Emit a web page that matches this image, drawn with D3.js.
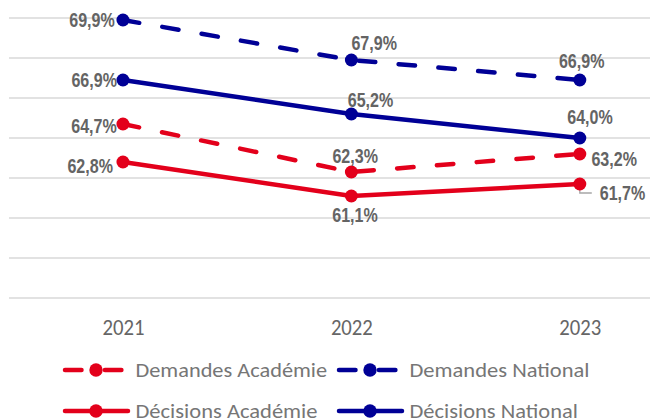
<!DOCTYPE html>
<html>
<head>
<meta charset="utf-8">
<script src="https://cdn.jsdelivr.net/npm/d3@7"></script>
<style>
  html, body { margin: 0; padding: 0; background: #fff; }
  svg { display: block; }
</style>
</head>
<body>
<svg id="chart" width="650" height="420"></svg>
<script>
// ---- data ----
const years = ["2021", "2022", "2023"];
const demandesAcademie = [64.7, 62.3, 63.2];
const demandesNational = [69.9, 67.9, 66.9];
const decisionsAcademie = [62.8, 61.1, 61.7];
const decisionsNational = [66.9, 65.2, 64.0];
const seriesNames = ["Demandes Académie", "Demandes National", "Décisions Académie", "Décisions National"];
const yTicks = [56, 58, 60, 62, 64, 66, 68, 70];

// ---- layout / style ----
const RED = "#E3001B", BLUE = "#000096";
const seriesStyle = [
  { color: RED,  dashed: true },
  { color: BLUE, dashed: true },
  { color: RED,  dashed: false },
  { color: BLUE, dashed: false }
];
// label offsets (center dx, baseline dy) relative to each point
const labelOffsets = [
  [[-29, 8.7], [3.8, -8.7], [34.4, 11.7]],
  [[-31, 6.7], [22.8, -10], [1.9, -12.3]],
  [[-32.8, 11.3], [3.6, 25.7], [42.7, 16]],
  [[-28.8, 7.3], [19.1, -7.3], [10.2, -14]]
];
const DASH = "16.5,23.4";

const seriesValues = [demandesAcademie, demandesNational, decisionsAcademie, decisionsNational];
const series = seriesNames.map((name, i) => ({
  name, style: seriesStyle[i],
  points: years.map((yr, j) => ({ year: yr, value: seriesValues[i][j], off: labelOffsets[i][j] }))
}));

const svg = d3.select("#chart");
const x = d3.scalePoint().domain(years).range([8.75, 694]).padding(0.5);
const y = d3.scaleLinear().domain([56, 70]).range([298, 18]);
const fmt = v => d3.format(".1f")(v).replace(".", ",") + "%";

// gridlines
svg.append("g").selectAll("line").data(yTicks).join("line")
  .attr("x1", 9).attr("x2", 694)
  .attr("y1", d => y(d)).attr("y2", d => y(d))
  .attr("stroke", "#d9d9d9").attr("stroke-width", 1.5);

// x axis labels
const xAxis = d3.axisBottom(x).tickSize(0).tickPadding(0);
const gx = svg.append("g").attr("transform", "translate(0,318)").call(xAxis);
gx.select(".domain").remove();
gx.selectAll("text")
  .attr("dy", 0).attr("y", 17)
  .attr("font-family", "Carlito, Lato, sans-serif")
  .attr("font-size", 21.5).attr("fill", "#666")
  .attr("textLength", 42).attr("lengthAdjust", "spacingAndGlyphs");

// leader line for the 2023 Décisions Académie label
svg.append("path")
  .attr("d", () => {
    const px = x("2023"), py = y(decisionsAcademie[2]);
    return `M${px},${py + 4}V${py + 9}H${px + 12}`;
  })
  .attr("fill", "none").attr("stroke", "#a6a6a6").attr("stroke-width", 1.3);

const line = d3.line().x(d => x(d.year)).y(d => y(d.value));

const gs = svg.append("g").selectAll("g").data(series).join("g");
gs.append("path")
  .attr("d", d => line(d.points))
  .attr("fill", "none")
  .attr("stroke", d => d.style.color)
  .attr("stroke-width", 4.5)
  .attr("stroke-linecap", "round")
  .attr("stroke-linejoin", "round")
  .attr("stroke-dasharray", d => d.style.dashed ? DASH : null);
gs.selectAll("circle").data(d => d.points.map(p => ({ ...p, color: d.style.color }))).join("circle")
  .attr("cx", d => x(d.year)).attr("cy", d => y(d.value)).attr("r", 6.5)
  .attr("fill", d => d.color);

// data labels
svg.append("g").selectAll("g").data(series).join("g")
  .selectAll("text").data(d => d.points).join("text")
  .attr("x", d => x(d.year) + d.off[0])
  .attr("y", d => y(d.value) + d.off[1])
  .attr("text-anchor", "middle")
  .attr("font-family", "'Liberation Sans', Arial, sans-serif")
  .attr("font-weight", "bold")
  .attr("font-size", 19.5)
  .attr("fill", "#646464")
  .attr("textLength", 45.5).attr("lengthAdjust", "spacingAndGlyphs")
  .text(d => fmt(d.value));

// legend
const legendCols = [62.5, 336.5];
const legendRows = [370, 411];
const legendTextW = [191.6, 180, 182, 168.4];
const lg = svg.append("g").selectAll("g").data(series).join("g")
  .attr("transform", (d, i) => `translate(${legendCols[i % 2]},${legendRows[Math.floor(i / 2)]})`);
lg.append("line")
  .attr("x1", 2.5).attr("x2", 65.5).attr("y1", 0).attr("y2", 0)
  .attr("stroke", d => d.style.color).attr("stroke-width", 4.5)
  .attr("stroke-linecap", "round")
  .attr("stroke-dasharray", d => d.style.dashed ? DASH : null);
lg.append("circle").attr("cx", 33.5).attr("cy", 0).attr("r", 6.7).attr("fill", d => d.style.color);
lg.append("text")
  .attr("x", 73).attr("y", 6.7)
  .attr("font-family", "Carlito, Lato, sans-serif")
  .attr("font-size", 20).attr("fill", "#767676")
  .attr("textLength", (d, i) => legendTextW[i]).attr("lengthAdjust", "spacingAndGlyphs")
  .text(d => d.name);
</script>
</body>
</html>
